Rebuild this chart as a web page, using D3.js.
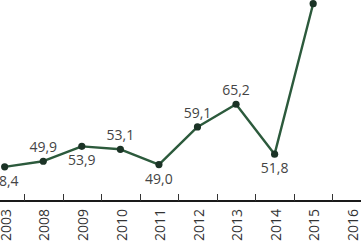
<!DOCTYPE html>
<html>
<head>
<meta charset="utf-8">
<script src="https://cdn.jsdelivr.net/npm/d3@7"></script>
<style>
  html, body { margin: 0; padding: 0; background: #fff; }
  svg { display: block; }
</style>
</head>
<body>
<svg id="chart" width="361" height="246"></svg>
<script>
const years = ["2003","2008","2009","2010","2011","2012","2013","2014","2015","2016"];
const values = [48.4, 49.9, 53.9, 53.1, 49.0, 59.1, 65.2, 51.8, 92.2, null];
const labelSide = ["below","above","below","above","below","above","above","below","above","above"];

const W = 361, H = 246;
const axisY = 201;
const svg = d3.select("#chart");

const x = d3.scaleBand().domain(years).range([-14.6, 371]).padding(0);
const cx = d => x(d) + x.bandwidth() / 2;
const y = d3.scaleLinear().domain([40, 90]).range([198.1, 11.9]);

const font = "'Open Sans', sans-serif";

// axis line
svg.append("line")
  .attr("x1", 0).attr("x2", W)
  .attr("y1", axisY).attr("y2", axisY)
  .attr("stroke", "#1a1a1a").attr("stroke-width", 2);

// ticks at category boundaries
svg.selectAll("line.tick").data(years).enter().append("line")
  .attr("class", "tick")
  .attr("x1", d => Math.round(x(d)) + 0.5).attr("x2", d => Math.round(x(d)) + 0.5)
  .attr("y1", axisY - 7).attr("y2", axisY)
  .attr("stroke", "#333").attr("stroke-width", 1);

// year labels
svg.selectAll("text.year").data(years).enter().append("text")
  .attr("class", "year")
  .attr("transform", d => `translate(${cx(d) + 1.3},209) rotate(-90)`)
  .attr("dy", "0.35em")
  .attr("text-anchor", "end")
  .attr("font-family", font).attr("font-size", 14)
  .attr("fill", "#333")
  .text(d => d);

const pts = years.map((d, i) => ({ year: d, v: values[i], side: labelSide[i] }))
  .filter(p => p.v !== null);

// line
svg.append("path")
  .datum(pts)
  .attr("fill", "none")
  .attr("stroke", "#2c5a3c")
  .attr("stroke-width", 2.4)
  .attr("stroke-linejoin", "round")
  .attr("d", d3.line().x(p => cx(p.year)).y(p => y(p.v)));

// points
svg.selectAll("circle").data(pts).enter().append("circle")
  .attr("cx", p => cx(p.year)).attr("cy", p => y(p.v))
  .attr("r", 3.6)
  .attr("fill", "#1b3326");

// value labels
svg.selectAll("text.val").data(pts).enter().append("text")
  .attr("class", "val")
  .attr("x", p => cx(p.year))
  .attr("y", p => y(p.v) + (p.side === "above" ? -9 : 19))
  .attr("text-anchor", "middle")
  .attr("font-family", font).attr("font-size", 14)
  .attr("fill", "#444")
  .text(p => d3.format(".1f")(p.v).replace(".", ","));
</script>
</body>
</html>
